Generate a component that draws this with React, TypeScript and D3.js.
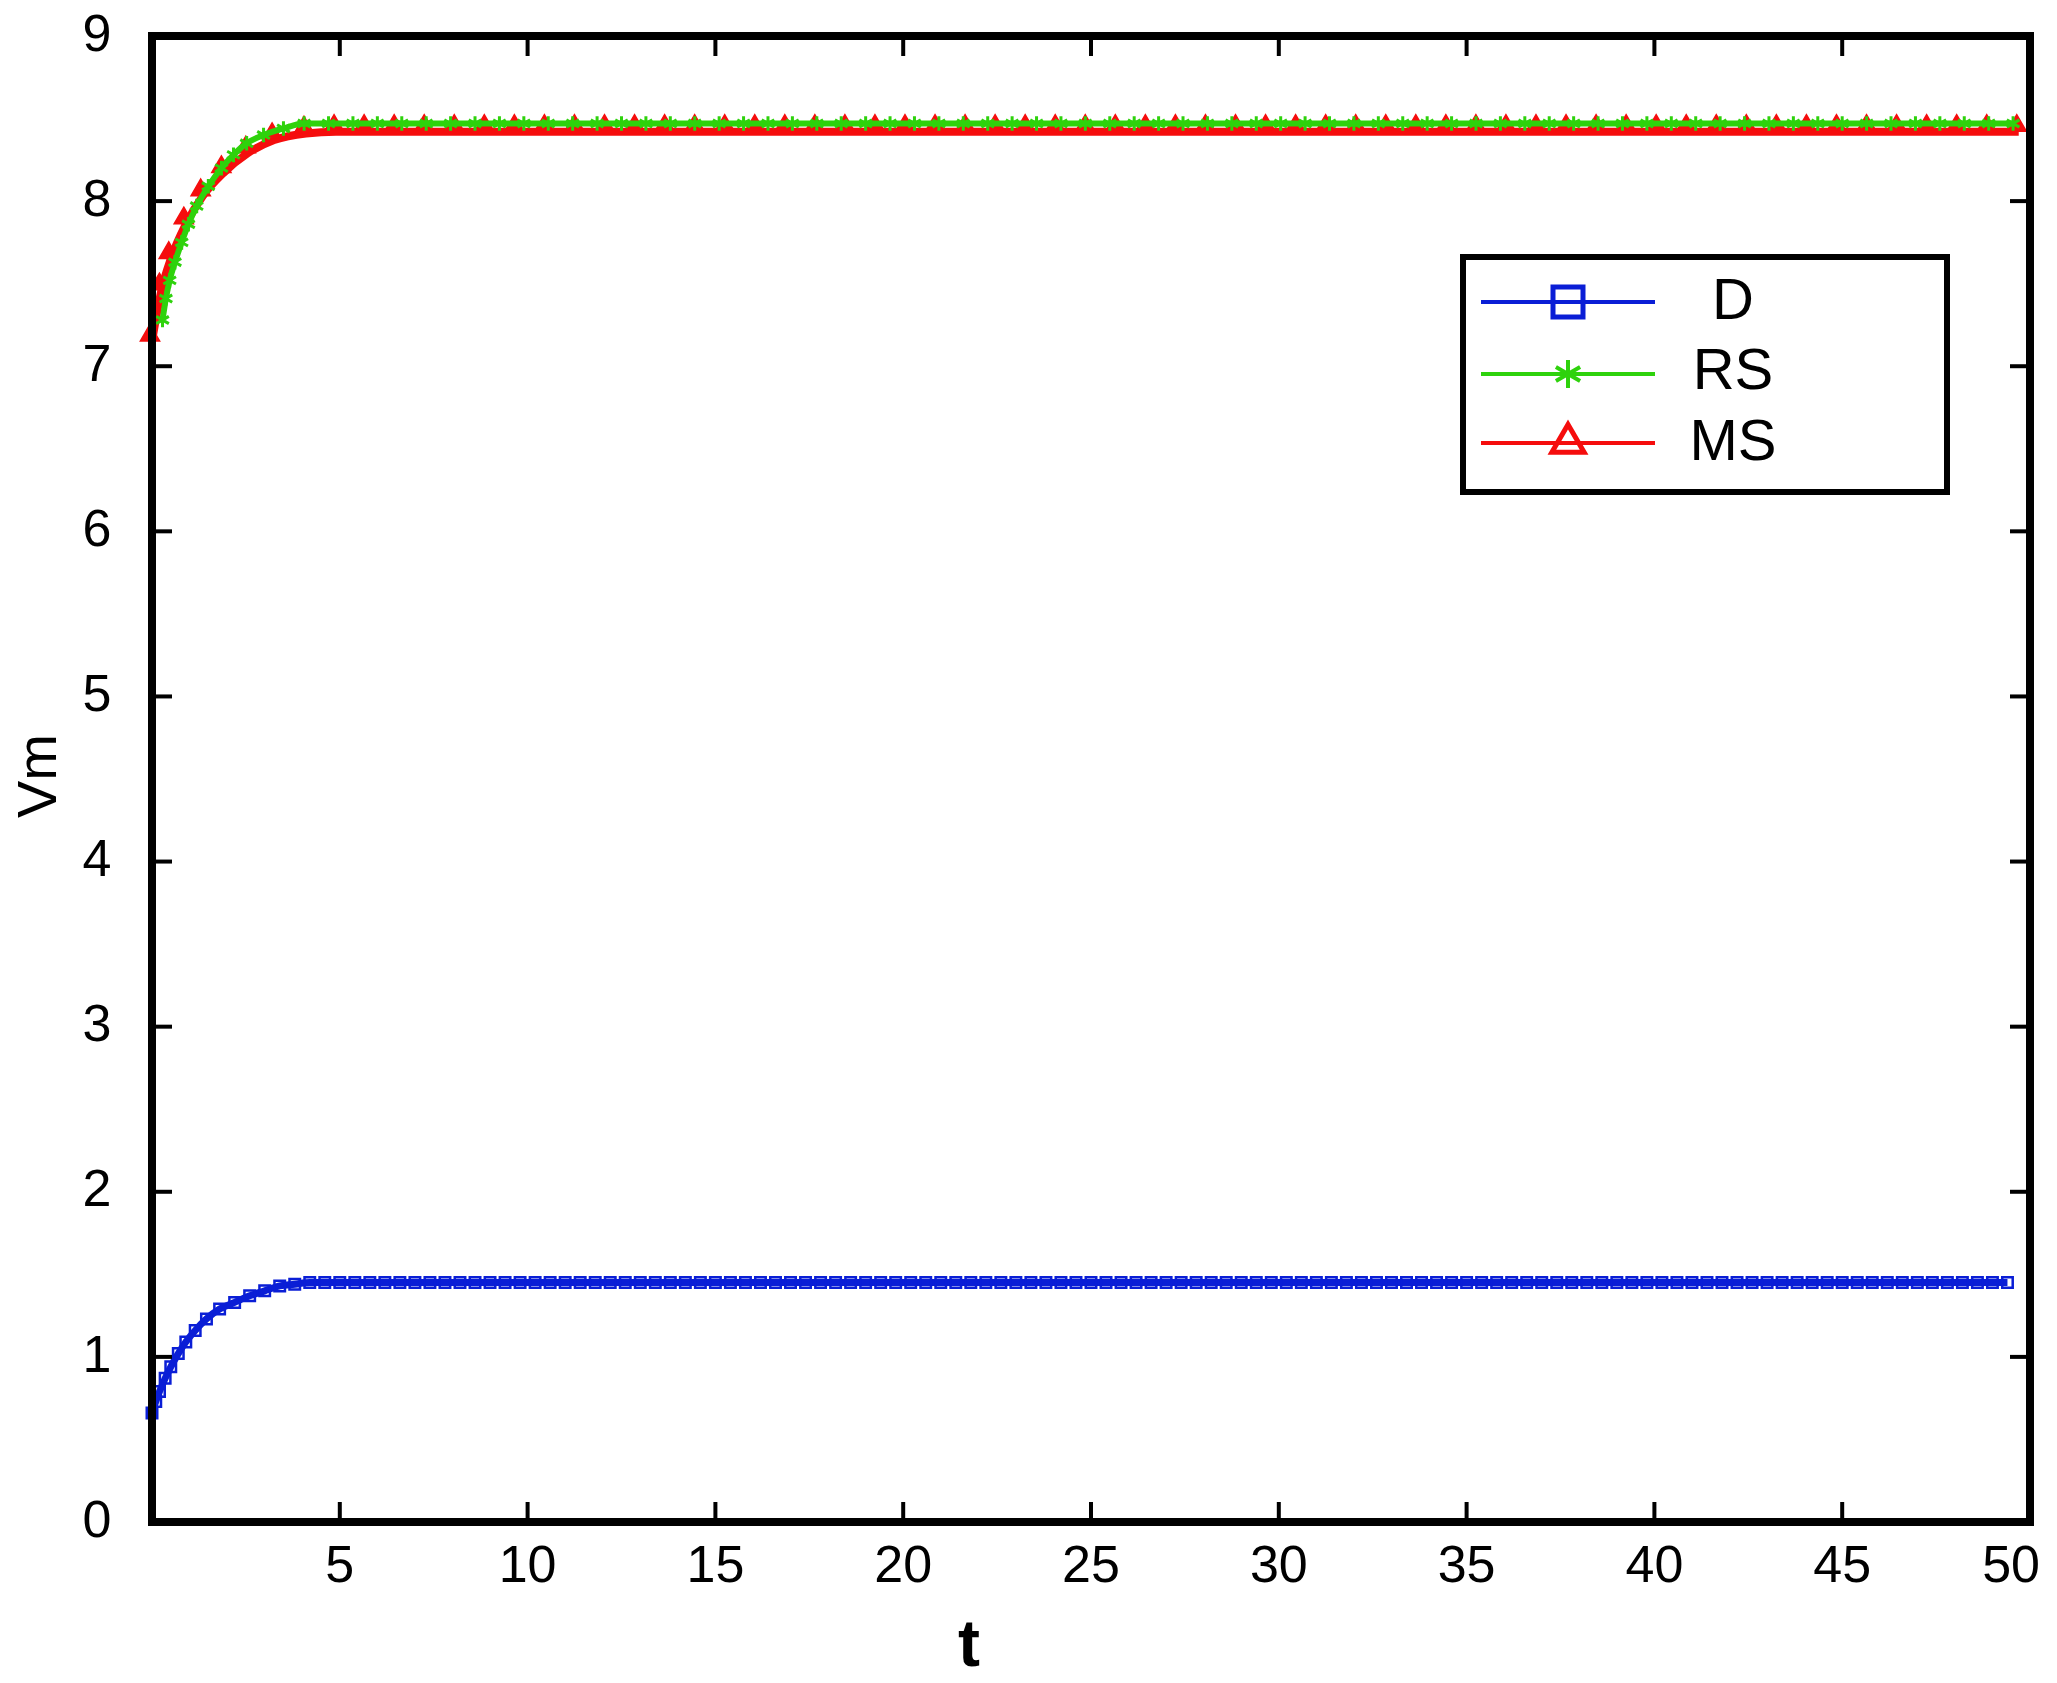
import * as d3 from "d3";

// tick labels
const xTicks = [5, 10, 15, 20, 25, 30, 35, 40, 45, 50];
const yTicks = [0, 1, 2, 3, 4, 5, 6, 7, 8, 9];

// D series (blue, squares)
const dTime = [
  0, 0.1, 0.2, 0.35, 0.5, 0.7, 0.9, 1.15, 1.45, 1.8, 2.2, 2.6, 3.0, 3.4, 3.8, 4.2,
  4.6, 5.0, 5.4, 5.8, 6.2, 6.6, 7.0, 7.4, 7.8, 8.2,
  8.6, 9.0, 9.4, 9.8, 10.2, 10.6, 11.0, 11.4, 11.8, 12.2,
  12.6, 13.0, 13.4, 13.8, 14.2, 14.6, 15.0, 15.4, 15.8, 16.2,
  16.6, 17.0, 17.4, 17.8, 18.2, 18.6, 19.0, 19.4, 19.8, 20.2,
  20.6, 21.0, 21.4, 21.8, 22.2, 22.6, 23.0, 23.4, 23.8, 24.2,
  24.6, 25.0, 25.4, 25.8, 26.2, 26.6, 27.0, 27.4, 27.8, 28.2,
  28.6, 29.0, 29.4, 29.8, 30.2, 30.6, 31.0, 31.4, 31.8, 32.2,
  32.6, 33.0, 33.4, 33.8, 34.2, 34.6, 35.0, 35.4, 35.8, 36.2,
  36.6, 37.0, 37.4, 37.8, 38.2, 38.6, 39.0, 39.4, 39.8, 40.2,
  40.6, 41.0, 41.4, 41.8, 42.2, 42.6, 43.0, 43.4, 43.8, 44.2,
  44.6, 45.0, 45.4, 45.8, 46.2, 46.6, 47.0, 47.4, 47.8, 48.2,
  48.6, 49.0, 49.4,
];
const dValue = [
  0.66, 0.73, 0.79, 0.87, 0.94, 1.02, 1.09, 1.16, 1.23, 1.29, 1.33, 1.37, 1.4, 1.43, 1.44, 1.45,
  1.45, 1.45, 1.45, 1.45, 1.45, 1.45, 1.45, 1.45, 1.45, 1.45,
  1.45, 1.45, 1.45, 1.45, 1.45, 1.45, 1.45, 1.45, 1.45, 1.45,
  1.45, 1.45, 1.45, 1.45, 1.45, 1.45, 1.45, 1.45, 1.45, 1.45,
  1.45, 1.45, 1.45, 1.45, 1.45, 1.45, 1.45, 1.45, 1.45, 1.45,
  1.45, 1.45, 1.45, 1.45, 1.45, 1.45, 1.45, 1.45, 1.45, 1.45,
  1.45, 1.45, 1.45, 1.45, 1.45, 1.45, 1.45, 1.45, 1.45, 1.45,
  1.45, 1.45, 1.45, 1.45, 1.45, 1.45, 1.45, 1.45, 1.45, 1.45,
  1.45, 1.45, 1.45, 1.45, 1.45, 1.45, 1.45, 1.45, 1.45, 1.45,
  1.45, 1.45, 1.45, 1.45, 1.45, 1.45, 1.45, 1.45, 1.45, 1.45,
  1.45, 1.45, 1.45, 1.45, 1.45, 1.45, 1.45, 1.45, 1.45, 1.45,
  1.45, 1.45, 1.45, 1.45, 1.45, 1.45, 1.45, 1.45, 1.45, 1.45,
  1.45, 1.45, 1.45,
];

// RS series (green, stars)
const rsTime = [
  0.28, 0.37, 0.47, 0.61, 0.79, 0.97, 1.19, 1.5, 1.85, 2.17, 2.52, 2.97, 3.5, 4.05,
  4.7, 5.35, 6.0, 6.65, 7.3, 7.95, 8.6, 9.25, 9.9, 10.55,
  11.2, 11.85, 12.5, 13.15, 13.8, 14.45, 15.1, 15.75, 16.4, 17.05,
  17.7, 18.35, 19.0, 19.65, 20.3, 20.95, 21.6, 22.25, 22.9, 23.55,
  24.2, 24.85, 25.5, 26.15, 26.8, 27.45, 28.1, 28.75, 29.4, 30.05,
  30.7, 31.35, 32.0, 32.65, 33.3, 33.95, 34.6, 35.25, 35.9, 36.55,
  37.2, 37.85, 38.5, 39.15, 39.8, 40.45, 41.1, 41.75, 42.4, 43.05,
  43.7, 44.35, 45.0, 45.65, 46.3, 46.95, 47.6, 48.25, 48.9, 49.55,
];
const rsValue = [
  7.28, 7.41, 7.52, 7.63, 7.75, 7.86, 7.97, 8.09, 8.2, 8.28, 8.35, 8.4, 8.44, 8.47,
  8.47, 8.47, 8.47, 8.47, 8.47, 8.47, 8.47, 8.47, 8.47, 8.47,
  8.47, 8.47, 8.47, 8.47, 8.47, 8.47, 8.47, 8.47, 8.47, 8.47,
  8.47, 8.47, 8.47, 8.47, 8.47, 8.47, 8.47, 8.47, 8.47, 8.47,
  8.47, 8.47, 8.47, 8.47, 8.47, 8.47, 8.47, 8.47, 8.47, 8.47,
  8.47, 8.47, 8.47, 8.47, 8.47, 8.47, 8.47, 8.47, 8.47, 8.47,
  8.47, 8.47, 8.47, 8.47, 8.47, 8.47, 8.47, 8.47, 8.47, 8.47,
  8.47, 8.47, 8.47, 8.47, 8.47, 8.47, 8.47, 8.47, 8.47, 8.47,
];

// MS series (red, triangles)
const msTime = [
  0, 0.25, 0.5, 0.9, 1.35, 1.9, 2.55, 3.25, 4.1,
  4.9, 5.7, 6.5, 7.3, 8.1, 8.9, 9.7, 10.5, 11.3, 12.1,
  12.9, 13.7, 14.5, 15.3, 16.1, 16.9, 17.7, 18.5, 19.3, 20.1,
  20.9, 21.7, 22.5, 23.3, 24.1, 24.9, 25.7, 26.5, 27.3, 28.1,
  28.9, 29.7, 30.5, 31.3, 32.1, 32.9, 33.7, 34.5, 35.3, 36.1,
  36.9, 37.7, 38.5, 39.3, 40.1, 40.9, 41.7, 42.5, 43.3, 44.1,
  44.9, 45.7, 46.5, 47.3, 48.1, 48.9, 49.7,
];
const msValue = [
  7.15, 7.46, 7.65, 7.86, 8.03, 8.17, 8.29, 8.37, 8.41,
  8.42, 8.42, 8.42, 8.42, 8.42, 8.42, 8.42, 8.42, 8.42, 8.42,
  8.42, 8.42, 8.42, 8.42, 8.42, 8.42, 8.42, 8.42, 8.42, 8.42,
  8.42, 8.42, 8.42, 8.42, 8.42, 8.42, 8.42, 8.42, 8.42, 8.42,
  8.42, 8.42, 8.42, 8.42, 8.42, 8.42, 8.42, 8.42, 8.42, 8.42,
  8.42, 8.42, 8.42, 8.42, 8.42, 8.42, 8.42, 8.42, 8.42, 8.42,
  8.42, 8.42, 8.42, 8.42, 8.42, 8.42, 8.42,
];

const legendLabels = ["D", "RS", "MS"];

const BLUE = "#0a1ed6";
const GREEN = "#2ed20c";
const RED = "#f50d0d";
const FONT = "'Liberation Sans', Arial, sans-serif";

const width = 2057;
const height = 1683;
const plot = { left: 152, right: 2030, top: 36, bottom: 1522 };

export default function App() {
  const x = d3.scaleLinear().domain([0, 50]).range([plot.left, plot.right]);
  const y = d3.scaleLinear().domain([0, 9]).range([plot.bottom, plot.top]);

  const line = d3
    .line<[number, number]>()
    .x((d) => x(d[0]))
    .y((d) => y(d[1]))
    .curve(d3.curveMonotoneX);

  const dPts: [number, number][] = dTime.map((t, i) => [t, dValue[i]]);
  const rsPts: [number, number][] = rsTime.map((t, i) => [t, rsValue[i]]);
  const msPts: [number, number][] = msTime.map((t, i) => [t, msValue[i]]);

  const square = d3.symbol(d3.symbolSquare, 110)();
  const star = d3.symbol(d3.symbolAsterisk, 150)();
  const triangle = d3.symbol(d3.symbolTriangle, 160)();

  const legSquare = d3.symbol(d3.symbolSquare, 900)();
  const legStar = d3.symbol(d3.symbolAsterisk, 550)();
  const legTriangle = d3.symbol(d3.symbolTriangle, 450)();

  const legend = { x0: 1463, x1: 1947, y0: 257, y1: 492 };
  const legendRows = [302, 374, 443];
  const legendBase = [319, 389, 460];
  const legendColors = [BLUE, GREEN, RED];

  return (
    <svg
      width={width}
      height={height}
      style={{ position: "absolute", left: 0, top: 0, background: "white" }}
      fontFamily={FONT}
    >
      <rect width={width} height={height} fill="white" />

      {/* D */}
      <path d={line(dPts) ?? ""} fill="none" stroke={BLUE} strokeWidth={7} />
      {dPts.map((p, i) => (
        <path
          key={"d" + i}
          d={square ?? ""}
          transform={`translate(${x(p[0])},${y(p[1])})`}
          fill="none"
          stroke={BLUE}
          strokeWidth={2.5}
        />
      ))}

      {/* MS */}
      <path d={line(msPts) ?? ""} fill="none" stroke={RED} strokeWidth={8} />
      {msPts.map((p, i) => (
        <path
          key={"m" + i}
          d={triangle ?? ""}
          transform={`translate(${x(p[0]) - 2},${y(p[1]) - 6})`}
          fill={RED}
          stroke={RED}
          strokeWidth={1.5}
        />
      ))}

      {/* RS */}
      <path d={line(rsPts) ?? ""} fill="none" stroke={GREEN} strokeWidth={6} />
      {rsPts.map((p, i) => (
        <path
          key={"r" + i}
          d={star ?? ""}
          transform={`translate(${x(p[0])},${y(p[1])})`}
          fill="none"
          stroke={GREEN}
          strokeWidth={3}
        />
      ))}

      {/* frame and ticks */}
      <rect
        x={plot.left}
        y={plot.top}
        width={plot.right - plot.left}
        height={plot.bottom - plot.top}
        fill="none"
        stroke="black"
        strokeWidth={8}
      />
      {xTicks.slice(0, -1).map((t) => (
        <g key={"xt" + t} stroke="black" strokeWidth={4}>
          <line x1={x(t)} x2={x(t)} y1={plot.bottom} y2={plot.bottom - 20} />
          <line x1={x(t)} x2={x(t)} y1={plot.top} y2={plot.top + 20} />
        </g>
      ))}
      {yTicks.slice(1, -1).map((t) => (
        <g key={"yt" + t} stroke="black" strokeWidth={4}>
          <line x1={plot.left} x2={plot.left + 20} y1={y(t)} y2={y(t)} />
          <line x1={plot.right} x2={plot.right - 20} y1={y(t)} y2={y(t)} />
        </g>
      ))}

      {/* tick labels */}
      {xTicks.map((t, i) => (
        <text
          key={"xl" + t}
          x={i === xTicks.length - 1 ? x(t) + 10 : x(t)}
          y={1582}
          textAnchor={i === xTicks.length - 1 ? "end" : "middle"}
          fontSize={52}
          fill="black"
        >
          {t}
        </text>
      ))}
      {yTicks.map((t) => (
        <text
          key={"yl" + t}
          x={97}
          y={y(t) - 4}
          dy="0.36em"
          textAnchor="middle"
          fontSize={52}
          fill="black"
        >
          {t}
        </text>
      ))}

      {/* axis titles */}
      <text x={969} y={1666} textAnchor="middle" fontSize={66} fontWeight="bold">
        t
      </text>
      <text
        transform="translate(56,776) rotate(-90)"
        textAnchor="middle"
        fontSize={56}
      >
        Vm
      </text>

      {/* legend */}
      <rect
        x={legend.x0}
        y={legend.y0}
        width={legend.x1 - legend.x0}
        height={legend.y1 - legend.y0}
        fill="white"
        stroke="black"
        strokeWidth={6}
      />
      {legendLabels.map((name, i) => (
        <g key={"lg" + name}>
          <line
            x1={1481}
            x2={1655}
            y1={legendRows[i]}
            y2={legendRows[i]}
            stroke={legendColors[i]}
            strokeWidth={4}
          />
          <path
            d={(i === 0 ? legSquare : i === 1 ? legStar : legTriangle) ?? ""}
            transform={`translate(1568,${legendRows[i]})`}
            fill="none"
            stroke={legendColors[i]}
            strokeWidth={i === 1 ? 4 : 5}
          />
          <text x={1733} y={legendBase[i]} textAnchor="middle" fontSize={58}>
            {name}
          </text>
        </g>
      ))}
    </svg>
  );
}
